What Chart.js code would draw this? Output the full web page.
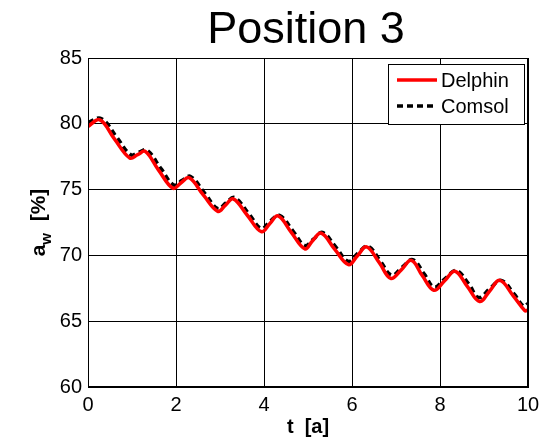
<!DOCTYPE html>
<html>
<head>
<meta charset="utf-8">
<script src="https://cdn.jsdelivr.net/npm/chart.js@4/dist/chart.umd.min.js"></script>
<style>
  body { margin: 0; background: #fff; }
  canvas { display: block; }
</style>
</head>
<body>
<canvas id="chart" width="549" height="440"></canvas>
<script>
// Time in years, water activity in %
const delphinT = [0, 0.27, 0.6, 0.95, 1.13, 1.3, 1.6, 1.93, 2.11, 2.3, 2.62, 2.95, 3.12, 3.3, 3.62, 3.94,
    4.13, 4.32, 4.62, 4.93, 5.1, 5.3, 5.6, 5.92, 6.12, 6.33, 6.62, 6.88, 7.12, 7.35, 7.6, 7.86,
    8.1, 8.34, 8.62, 8.9, 9.13, 9.36, 9.66, 9.93, 10];
const delphinA = [79.8, 80.3, 78.85, 77.4, 77.65, 77.9, 76.5, 75.1, 75.5, 75.9, 74.6, 73.35, 73.8, 74.3, 73.05, 71.8,
    72.4, 73.0, 71.75, 70.5, 71.1, 71.7, 70.5, 69.3, 69.95, 70.65, 69.45, 68.25, 68.9, 69.62, 68.45, 67.35,
    68.05, 68.8, 67.65, 66.5, 67.3, 68.1, 66.95, 65.8, 65.85];

const comsolT = [0, 0.3, 0.65, 0.97, 1.16, 1.34, 1.66, 1.95, 2.14, 2.33, 2.66, 2.95, 3.14, 3.33, 3.66, 3.94,
    4.14, 4.35, 4.66, 4.93, 5.13, 5.33, 5.64, 5.92, 6.13, 6.36, 6.65, 6.9, 7.14, 7.38, 7.64, 7.87,
    8.12, 8.37, 8.66, 8.88, 9.14, 9.39, 9.69, 9.9, 10];
const comsolA = [80.1, 80.4, 79.0, 77.65, 77.85, 78.0, 76.6, 75.35, 75.7, 76.0, 74.7, 73.55, 74.0, 74.4, 73.15, 72.05,
    72.6, 73.05, 71.85, 70.75, 71.25, 71.75, 70.6, 69.55, 70.15, 70.7, 69.55, 68.5, 69.1, 69.68, 68.6, 67.6,
    68.25, 68.85, 67.8, 66.8, 67.5, 68.1, 67.05, 66.15, 66.35];

const xTicks = [0, 2, 4, 6, 8, 10];
const yTicks = [60, 65, 70, 75, 80, 85];

const FONT = '"Liberation Sans", Arial, sans-serif';

function toPoints(xs, ys) {
    return xs.map((x, i) => ({ x: x, y: ys[i] }));
}

// title, axis titles (with subscript), frame and legend drawn by hand
const decorations = {
    id: 'decorations',
    afterDraw(chart) {
        const ctx = chart.ctx;
        const area = chart.chartArea;
        const midX = (area.left + area.right) / 2;
        const midY = (area.top + area.bottom) / 2;
        ctx.save();
        ctx.fillStyle = '#000';

        // title
        ctx.font = '45px ' + FONT;
        ctx.textAlign = 'center';
        ctx.textBaseline = 'alphabetic';
        ctx.fillText('Position 3', midX - 2, 43);

        // x axis title
        ctx.font = 'bold 20px ' + FONT;
        ctx.fillText('t  [a]', midX, 433);

        // y axis title, rotated, with subscript w
        ctx.translate(45, midY);
        ctx.rotate(-Math.PI / 2);
        ctx.textAlign = 'left';
        const main = 'a';
        const sub = 'w';
        const rest = '  [%]';
        ctx.font = 'bold 21px ' + FONT;
        const wa = ctx.measureText(main).width;
        ctx.font = 'bold 15px ' + FONT;
        const ws = ctx.measureText(sub).width;
        ctx.font = 'bold 21px ' + FONT;
        const wr = ctx.measureText(rest).width;
        let x0 = -(wa + ws + wr) / 2;
        ctx.fillText(main, x0, 0);
        ctx.font = 'bold 15px ' + FONT;
        ctx.fillText(sub, x0 + wa, 6);
        ctx.font = 'bold 21px ' + FONT;
        ctx.fillText(rest, x0 + wa + ws, 0);
        ctx.restore();

        // frame
        ctx.save();
        ctx.strokeStyle = '#000';
        ctx.lineWidth = 1;
        ctx.strokeRect(area.left + 0.5, area.top + 0.5, area.right - area.left - 1, area.bottom - area.top - 1);

        // legend
        const lx = area.right - 140, ly = area.top + 6, lw = 136, lh = 60;
        ctx.fillStyle = '#fff';
        ctx.fillRect(lx, ly, lw, lh);
        ctx.strokeRect(lx + 0.5, ly + 0.5, lw, lh);
        ctx.font = '20px ' + FONT;
        ctx.textAlign = 'left';
        ctx.textBaseline = 'middle';
        chart.data.datasets.forEach((ds, i) => {
            const y = ly + 16 + i * 26;
            ctx.strokeStyle = ds.borderColor;
            ctx.lineWidth = ds.borderWidth;
            ctx.setLineDash(ds.borderDash || []);
            ctx.beginPath();
            ctx.moveTo(lx + 9, y);
            ctx.lineTo(lx + 49, y);
            ctx.stroke();
            ctx.setLineDash([]);
            ctx.fillStyle = '#000';
            ctx.fillText(ds.label, lx + 53, y + 1);
        });
        ctx.restore();
    }
};

new Chart(document.getElementById('chart'), {
    type: 'line',
    data: {
        datasets: [{
            label: 'Delphin',
            data: toPoints(delphinT, delphinA),
            borderColor: '#ff0000',
            borderWidth: 3.5,
            pointRadius: 0,
            tension: 0.4,
            fill: false,
        }, {
            label: 'Comsol',
            data: toPoints(comsolT, comsolA),
            borderColor: '#000000',
            borderWidth: 3.5,
            borderDash: [6, 4],
            pointRadius: 0,
            tension: 0.4,
            fill: false,
        }],
    },
    options: {
        responsive: false,
        animation: false,
        layout: { padding: { top: 58, right: 21, left: 0, bottom: 0 } },
        plugins: {
            legend: { display: false },
            title: { display: false },
            tooltip: { enabled: false },
        },
        scales: {
            x: {
                type: 'linear',
                min: 0,
                max: 10,
                afterBuildTicks: scale => { scale.ticks = xTicks.map(v => ({ value: v })); },
                afterFit: scale => { scale.height = 53; },
                ticks: { color: '#000', font: { family: FONT, size: 20 }, padding: 6, maxRotation: 0 },
                grid: { color: '#000', lineWidth: 1, drawTicks: false },
                border: { color: '#000', width: 1 },
            },
            y: {
                min: 60,
                max: 85,
                afterBuildTicks: scale => { scale.ticks = yTicks.map(v => ({ value: v })); },
                afterFit: scale => { scale.width = 88; },
                ticks: { color: '#000', font: { family: FONT, size: 20 }, padding: 6 },
                grid: { color: '#000', lineWidth: 1, drawTicks: false },
                border: { color: '#000', width: 1 },
            },
        },
    },
    plugins: [decorations],
});
</script>
</body>
</html>
